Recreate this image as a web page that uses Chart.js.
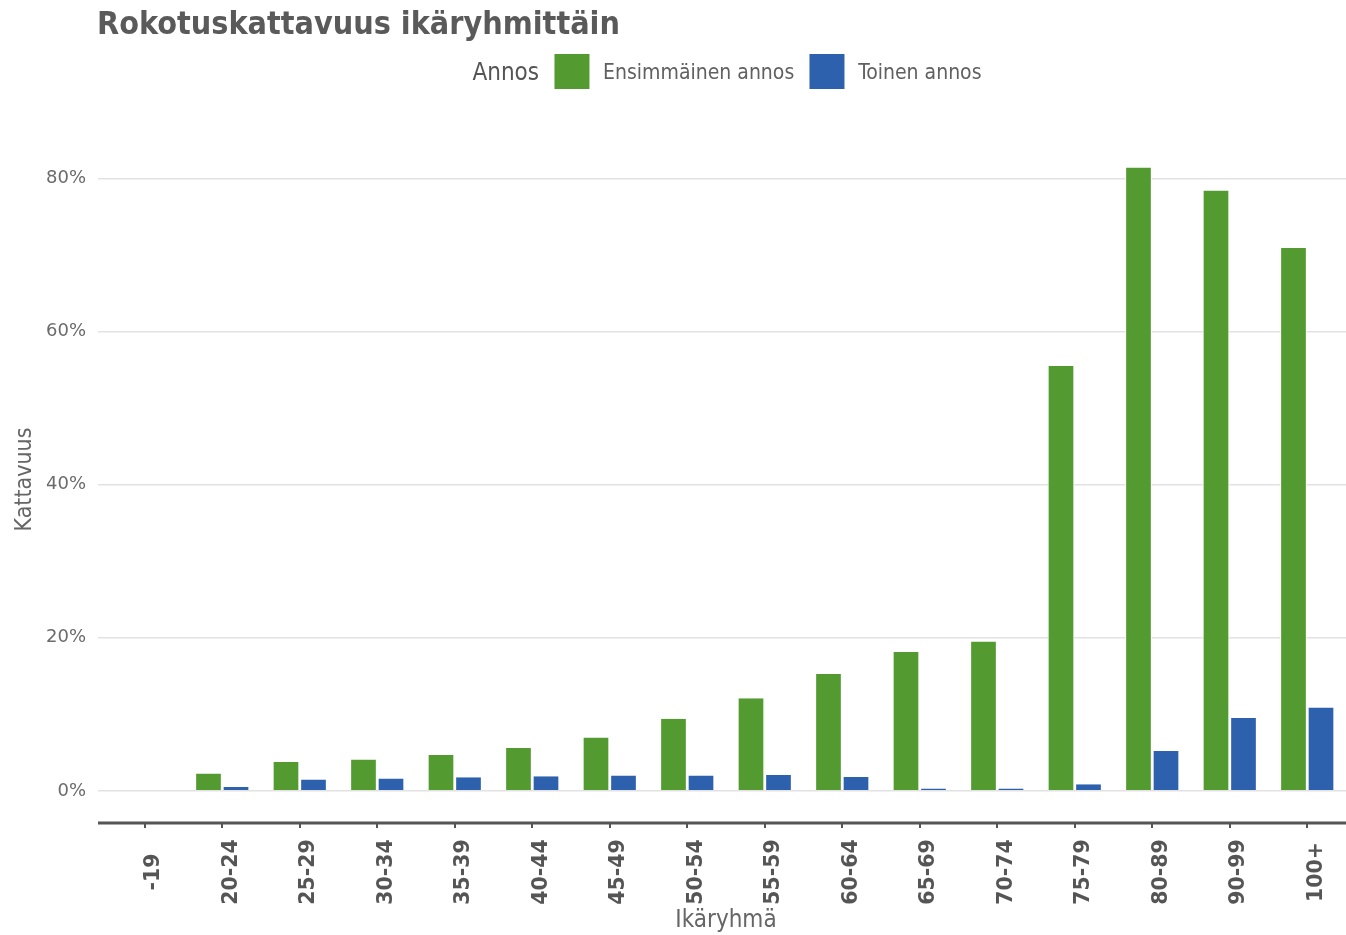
<!DOCTYPE html>
<html>
<head>
<meta charset="utf-8">
<script src="https://cdn.jsdelivr.net/npm/chart.js@4.4.1/dist/chart.umd.min.js"></script>
<style>
html, body { margin: 0; padding: 0; background: #fff; overflow: hidden; }
#wrap { position: relative; width: 1346px; height: 935px; }
#myChart { position: absolute; left: 0; top: 0; }
#title { position: absolute; left: 97px; top: 7px; font: bold 32px 'DejaVu Sans Condensed', 'DejaVu Sans', sans-serif; color: #5a5a5a; line-height: 1; white-space: nowrap; }
#legend { position: absolute; left: 727px; top: 54px; transform: translateX(-50%); display: flex; align-items: center; font-family: 'DejaVu Sans Condensed', 'DejaVu Sans', sans-serif; color: #606060; white-space: nowrap; }
#legend .head { font-size: 24px; color: #555; }
#legend .box { width: 35px; height: 35px; margin-left: 15px; }
#legend .lab { font-size: 21px; margin-left: 14px; }
</style>
</head>
<body>
<div id="wrap">
  <canvas id="myChart" width="1346" height="935"></canvas>
  <div id="title">Rokotuskattavuus ikäryhmittäin</div>
  <div id="legend"></div>
</div>
<script>
// ikäryhmät ja kattavuus (%)
const ageGroups = ['-19', '20-24', '25-29', '30-34', '35-39', '40-44', '45-49', '50-54',
                   '55-59', '60-64', '65-69', '70-74', '75-79', '80-89', '90-99', '100+'];
const firstDose  = [0, 2.25, 3.77, 4.08, 4.68, 5.6, 6.96, 9.4, 12.1, 15.25, 18.15, 19.5, 55.5, 81.4, 78.4, 70.9];
const secondDose = [0, 0.5, 1.47, 1.6, 1.77, 1.9, 2.0, 2.0, 2.07, 1.8, 0.3, 0.3, 0.85, 5.2, 9.5, 10.9];
const yTicks = [0, 20, 40, 60, 80];

const seriesNames = ['Ensimmäinen annos', 'Toinen annos'];
const seriesColors = ['#539b30', '#2d61ae'];
const legendTitle = 'Annos';

// legend as html
function buildLegend(){
    const legend = document.getElementById('legend');
    let html = '<span class="head">' + legendTitle + '</span>';
    for(let i = 0; i < seriesNames.length; i++){
        html += '<span class="box" style="background:' + seriesColors[i] + '"></span>';
        html += '<span class="lab">' + seriesNames[i] + '</span>';
    }
    legend.innerHTML = html;
}
buildLegend();

// x axis line + centered rotated labels
const xAxisDecor = {
    id: 'xAxisDecor',
    afterDraw(chart){
        const ctx = chart.ctx;
        const area = chart.chartArea;
        const xs = chart.scales.x;
        ctx.save();
        ctx.strokeStyle = '#555';
        ctx.lineWidth = 3;
        ctx.beginPath();
        ctx.moveTo(area.left - 8, area.bottom + 1);
        ctx.lineTo(area.right, area.bottom + 1);
        ctx.stroke();

        ctx.font = 'bold 20.5px "DejaVu Sans"';
        ctx.fillStyle = '#555';
        ctx.textAlign = 'center';
        ctx.textBaseline = 'alphabetic';
        for(let i = 0; i < ageGroups.length; i++){
            const x = xs.getPixelForValue(i);
            ctx.save();
            ctx.translate(x + 14.5, area.bottom + 50);
            ctx.rotate(-Math.PI / 2);
            ctx.fillText(ageGroups[i], 0, 0);
            ctx.restore();
        }
        ctx.restore();
    }
};

const barBorder = { left: 1, right: 1, top: 0, bottom: 0 };

const data = {
    labels: ageGroups,
    datasets: [
        { label: seriesNames[0], data: firstDose, backgroundColor: seriesColors[0],
          borderColor: '#ffffff', borderWidth: barBorder, borderSkipped: false },
        { label: seriesNames[1], data: secondDose, backgroundColor: seriesColors[1],
          borderColor: '#ffffff', borderWidth: barBorder, borderSkipped: false }
    ]
};

const config = {
    type: 'bar',
    data,
    options: {
        responsive: false,
        animation: false,
        layout: { padding: { top: 137, left: 0, right: 0, bottom: 0 } },
        datasets: { bar: { categoryPercentage: 0.71, barPercentage: 0.97 } },
        plugins: { legend: { display: false }, title: { display: false }, tooltip: { enabled: false } },
        scales: {
            x: {
                offset: true,
                grid: { offset: false, drawOnChartArea: false, drawTicks: true, tickLength: 6, color: '#555', lineWidth: 2 },
                border: { display: false },
                ticks: { display: false },
                title: { display: true, text: 'Ikäryhmä', color: '#666',
                         font: { family: 'DejaVu Sans Condensed', size: 24 }, padding: { top: 0, bottom: 0 } },
                afterFit(scale){ scale.height = 113; }
            },
            y: {
                min: -4.07,
                max: 85.4,
                afterBuildTicks(scale){ scale.ticks = yTicks.map(v => ({ value: v })); },
                grid: { color: '#e2e2e2', lineWidth: 1.5, drawTicks: true, tickLength: 8 },
                border: { display: false },
                ticks: { padding: 12, color: '#6b6b6b', font: { family: 'DejaVu Sans', size: 18 },
                         callback: v => v + '%' },
                title: { display: true, text: 'Kattavuus', color: '#666',
                         font: { family: 'DejaVu Sans Condensed', size: 23 }, padding: { top: 11, bottom: 0 } },
                afterFit(scale){ scale.width = 106; }
            }
        }
    },
    plugins: [xAxisDecor]
};

const myChart = new Chart(document.getElementById('myChart'), config);
</script>
</body>
</html>
